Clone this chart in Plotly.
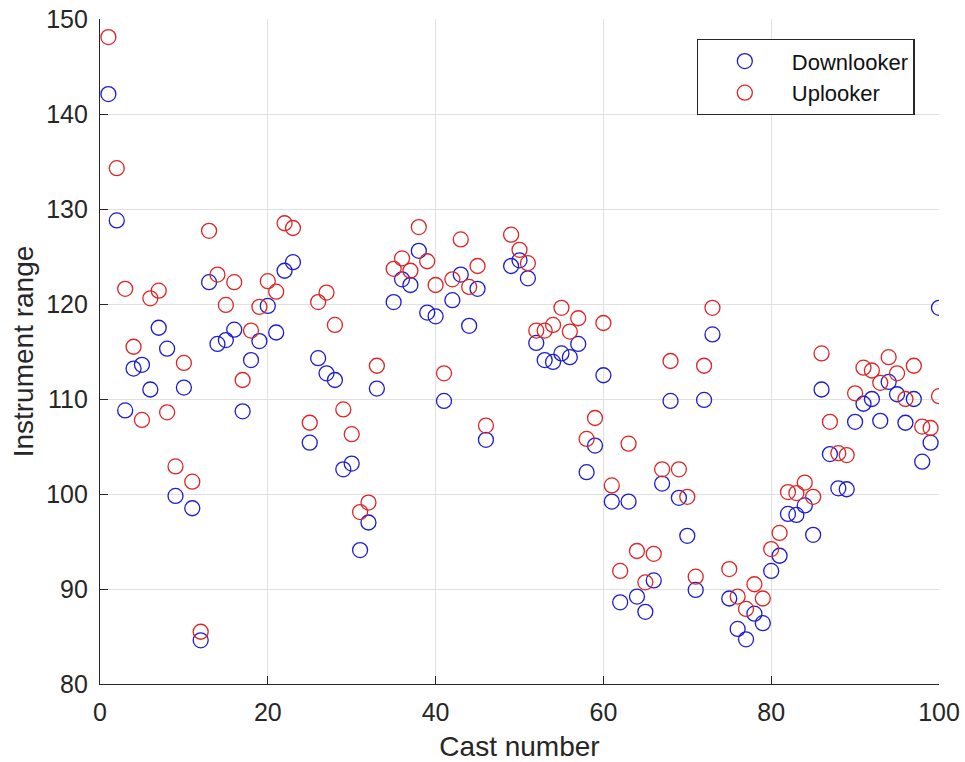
import plotly.graph_objects as go

# Cast numbers with a valid range estimate (casts 24, 34, 47, 48 and 74 have none)
cast = [1, 2, 3, 4, 5, 6, 7, 8, 9, 10, 11, 12, 13, 14, 15, 16, 17, 18, 19, 20,
        21, 22, 23, 25, 26, 27, 28, 29, 30, 31, 32, 33, 35, 36, 37, 38, 39, 40,
        41, 42, 43, 44, 45, 46, 49, 50, 51, 52, 53, 54, 55, 56, 57, 58, 59, 60,
        61, 62, 63, 64, 65, 66, 67, 68, 69, 70, 71, 72, 73, 75, 76, 77, 78, 79, 80,
        81, 82, 83, 84, 85, 86, 87, 88, 89, 90, 91, 92, 93, 94, 95, 96, 97, 98, 99, 100]

downlooker = [142.1, 128.8, 108.8, 113.2, 113.6, 111.0, 117.5, 115.3, 99.8, 111.2,
              98.5, 84.6, 122.3, 115.8, 116.2, 117.3, 108.7, 114.1, 116.1, 119.8,
              117.0, 123.5, 124.4, 105.4, 114.3, 112.7, 112.0, 102.6, 103.2, 94.1,
              97.0, 111.1, 120.2, 122.6, 122.0, 125.6, 119.1, 118.7,
              109.8, 120.4, 123.1, 117.7, 121.6, 105.7, 124.0, 124.6, 122.7, 115.9,
              114.1, 113.9, 114.8, 114.4, 115.8, 102.3, 105.1, 112.5,
              99.2, 88.6, 99.2, 89.2, 87.6, 90.9, 101.1, 109.8, 99.6, 95.6,
              89.9, 109.9, 116.8, 89.0, 85.8, 84.7, 87.4, 86.4, 91.9,
              93.5, 97.9, 97.8, 98.8, 95.7, 111.0, 104.2, 100.6, 100.5, 107.6,
              109.5, 110.0, 107.7, 111.8, 110.5, 107.5, 110.0, 103.4, 105.4, 119.6]

uplooker = [148.1, 134.3, 121.6, 115.5, 107.8, 120.6, 121.4, 108.6, 102.9, 113.8,
            101.3, 85.5, 127.7, 123.1, 119.9, 122.3, 112.0, 117.2, 119.7, 122.4,
            121.3, 128.5, 128.0, 107.5, 120.2, 121.2, 117.8, 108.9, 106.3, 98.1,
            99.1, 113.5, 123.7, 124.8, 123.5, 128.1, 124.5, 122.0,
            112.7, 122.6, 126.8, 121.8, 124.0, 107.2, 127.3, 125.7, 124.3, 117.2,
            117.2, 117.8, 119.6, 117.1, 118.5, 105.8, 108.0, 118.0,
            100.9, 91.9, 105.3, 94.0, 90.7, 93.7, 102.6, 114.0, 102.6, 99.7,
            91.3, 113.5, 119.6, 92.1, 89.2, 87.9, 90.5, 89.0, 94.2,
            95.9, 100.2, 100.1, 101.2, 99.7, 114.8, 107.6, 104.3, 104.1, 110.6,
            113.3, 113.0, 111.7, 114.4, 112.7, 110.0, 113.5, 107.1, 106.95, 110.3]

x_ticks = [0, 20, 40, 60, 80, 100]
y_ticks = [80, 90, 100, 110, 120, 130, 140, 150]

FONT = "Arial, Liberation Sans, Helvetica, sans-serif"
INK = "#262626"
GRID = "#e0e0e0"

fig = go.Figure()
fig.add_trace(go.Scatter(
    x=cast, y=downlooker, mode="markers", name="Downlooker",
    marker=dict(symbol="circle-open", size=15, color="#1c1cd0",
                line=dict(width=1.3, color="#1c1cd0")),
))
fig.add_trace(go.Scatter(
    x=cast, y=uplooker, mode="markers", name="Uplooker",
    marker=dict(symbol="circle-open", size=15, color="#e02424",
                line=dict(width=1.3, color="#e02424")),
))

axis_common = dict(
    showgrid=True, gridcolor=GRID, gridwidth=1,
    showline=True, linecolor=INK, linewidth=1.3,
    ticks="inside", ticklen=8, tickwidth=1.3, tickcolor=INK,
    tickfont=dict(family=FONT, size=25, color=INK),
    zeroline=False,
)

fig.update_xaxes(
    range=[0, 100], tickvals=x_ticks, ticktext=[str(v) for v in x_ticks],
    title=dict(text="Cast number", font=dict(family=FONT, size=28, color=INK), standoff=12),
    ticklabelstandoff=6,
    **axis_common,
)
fig.update_yaxes(
    range=[80, 150], tickvals=y_ticks, ticktext=[str(v) for v in y_ticks],
    title=dict(text="Instrument range", font=dict(family=FONT, size=28, color=INK), standoff=4),
    ticklabelstandoff=6,
    **axis_common,
)

fig.update_layout(
    width=965, height=762,
    margin=dict(l=100, r=26, t=19, b=78, autoexpand=False),
    paper_bgcolor="white", plot_bgcolor="white",
    showlegend=True,
    legend=dict(
        x=0.711, y=0.97, xanchor="left", yanchor="top",
        bgcolor="white", bordercolor=INK, borderwidth=1.3,
        font=dict(family=FONT, size=22, color="#111111"),
        itemwidth=84, tracegroupgap=0,
    ),
)

fig.write_html("out.html")
